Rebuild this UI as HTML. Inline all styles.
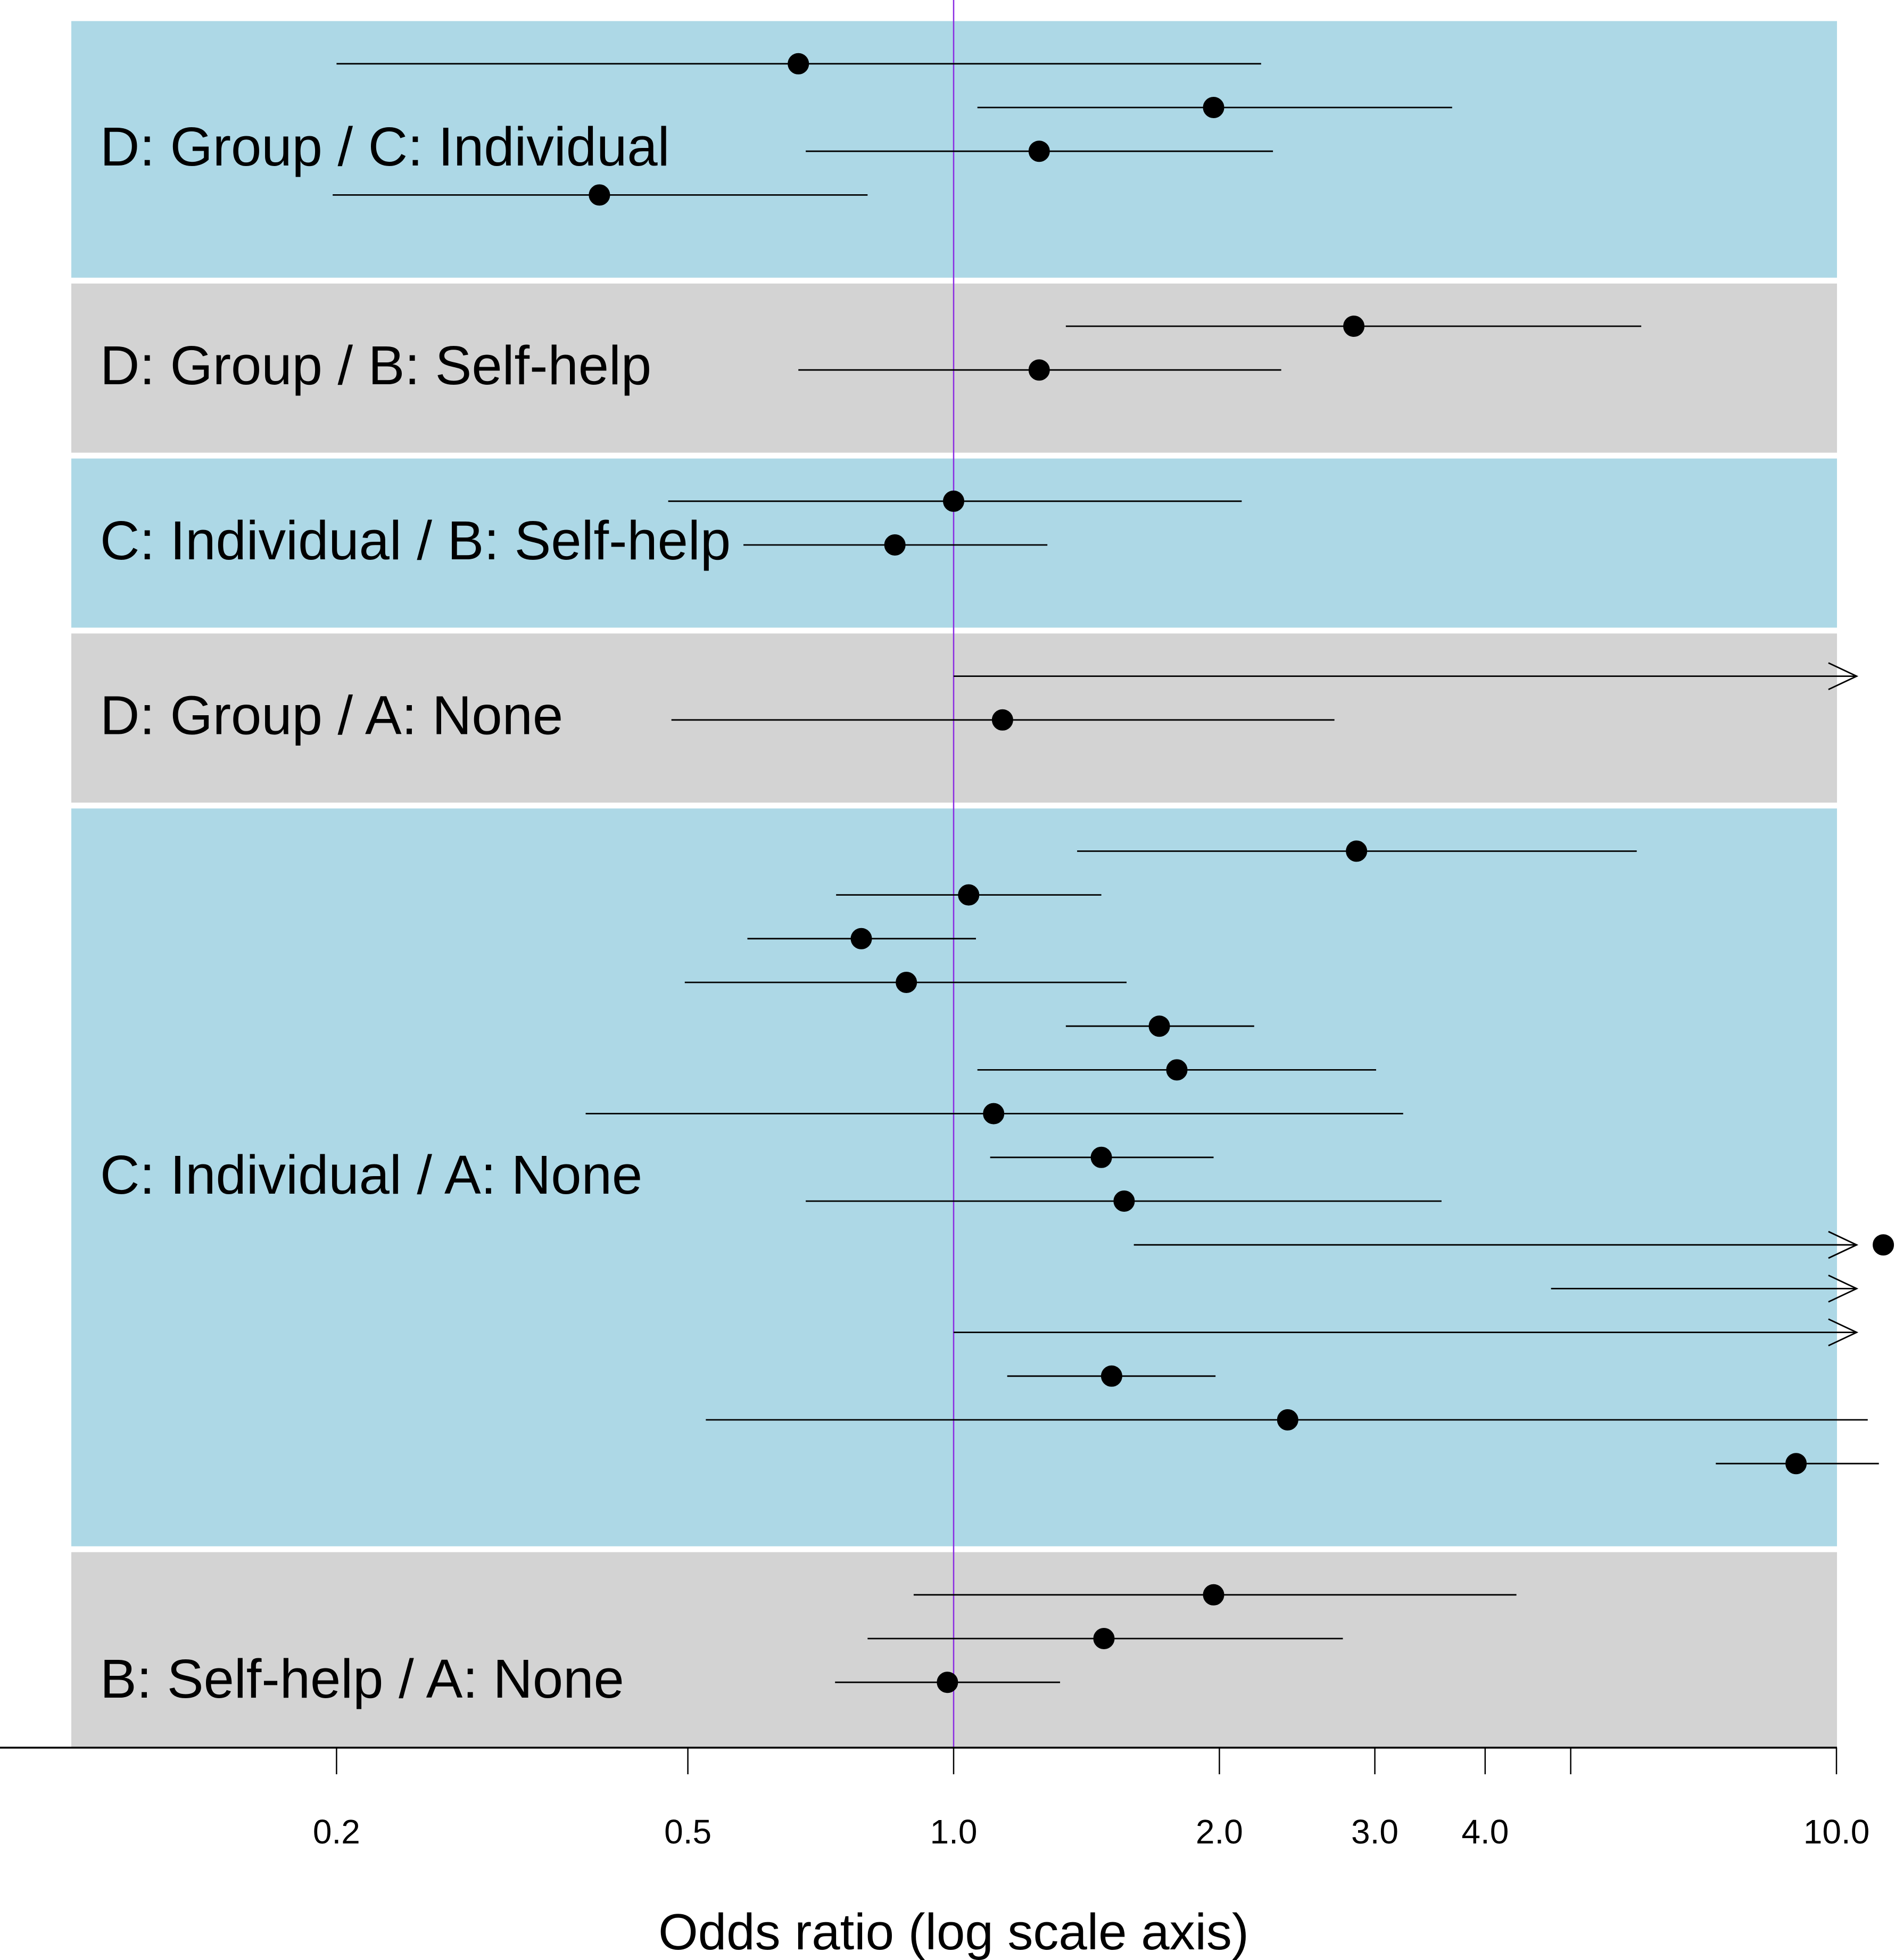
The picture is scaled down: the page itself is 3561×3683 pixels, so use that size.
<!DOCTYPE html>
<html><head><meta charset="utf-8"><style>
html,body{margin:0;padding:0;background:#fff;}
svg{display:block;}
text{font-family:"Liberation Sans",Arial,sans-serif;}
</style></head><body>
<svg id="chart" width="3561" height="3683" viewBox="0 0 3561 3683" xmlns="http://www.w3.org/2000/svg"></svg>
<script>
// ---- data ----
const panelLabels = ["D: Group / C: Individual","D: Group / B: Self-help","C: Individual / B: Self-help","D: Group / A: None","C: Individual / A: None","B: Self-help / A: None"];
const panelRows = [[1,2,3,4],[7,8],[11,12],[15,16],[19,20,21,22,23,24,25,26,27,28,29,30,31,32,33],[36,37,38]];
const rowIndex = [1,2,3,4,7,8,11,12,15,16,19,20,21,22,23,24,25,26,27,28,29,30,31,32,33,36,37,38];
const lowerCI = [0.2,1.064,0.68,0.198,1.34,0.667,0.475,0.578,1.0,0.479,1.38,0.736,0.584,0.496,1.34,1.064,0.383,1.10,0.68,1.60,4.75,1.0,1.15,0.524,7.3,0.901,0.799,0.734];
const estimate = [0.667,1.97,1.25,0.397,2.84,1.25,1.0,0.858,20,1.136,2.86,1.04,0.786,0.884,1.71,1.79,1.11,1.47,1.56,11.3,20,20,1.51,2.39,9.0,1.97,1.48,0.984];
const upperCI = [2.23,3.67,2.30,0.799,6.01,2.35,2.12,1.277,100,2.70,5.94,1.47,1.06,1.57,2.19,3.01,3.23,1.97,3.57,100,100,100,1.98,10.85,11.17,4.34,2.76,1.32];
const tickValues = [0.2,0.5,1,2,3,4,5,10];
const tickLabels = ["0.2","0.5","1.0","2.0","3.0","4.0","","10.0"];

const svg = document.getElementById('chart');
const NS = "http://www.w3.org/2000/svg";
const X1 = 1792, DEC = 1659;
function xScale(v){ return X1 + DEC*Math.log10(v); }
const Y0 = 37.6, U = 82.2;
function yScale(k){ return Y0 + U*k; }
const AXIS_Y = 3284, LEFT = 134, RIGHT = 3452;
function mk(tag, attrs){ const e=document.createElementNS(NS,tag); for(const k in attrs) e.setAttribute(k,attrs[k]); svg.appendChild(e); return e; }

// panels
panelRows.forEach((rows,i)=>{
  const top = yScale(rows[0]-1)+2;
  let bot = yScale(rows[rows.length-1]+2)-9;
  if (bot > AXIS_Y) bot = AXIS_Y;
  const r = mk('rect',{x:LEFT,y:top,width:RIGHT-LEFT,height:bot-top,fill:i%2===0?'#add8e6':'#d3d3d3'});
  
  
});
// labels
panelRows.forEach((rows,i)=>{
  const mean = (rows[0]+rows[rows.length-1])/2;
  let base = yScale(mean)+68;
  if (i===panelRows.length-1) base += 43;
  const t = mk('text',{x:188,y:base,'font-size':103,fill:'#000'});
  t.textContent = panelLabels[i];
  
  
});
// reference line
const ref = mk('line',{x1:xScale(1),x2:xScale(1),y1:0,y2:AXIS_Y,stroke:'#8a2be2','stroke-width':2.5});


// intervals
const ARROW_LIMIT = 11.5, ARROW_TIP = 10.54;
rowIndex.forEach((k,i)=>{
  const y = yScale(k);
  const arrow = upperCI[i] > ARROW_LIMIT;
  const hiX = arrow ? xScale(ARROW_TIP) : xScale(upperCI[i]);
  const l = mk('line',{x1:xScale(lowerCI[i]),x2:hiX,y1:y,y2:y,stroke:'#000','stroke-width':2.8});
  
  
  if (arrow){
    const p = mk('polyline',{points:`${hiX-53},${y-25} ${hiX},${y} ${hiX-53},${y+25}`,fill:'none',stroke:'#000','stroke-width':2.8});
    
    
  }
  const c = mk('circle',{cx:xScale(estimate[i]),cy:y,r:19,fill:'#000',stroke:'#000','stroke-width':2});
  
  
});
// axis
const ax = mk('line',{x1:0,x2:RIGHT,y1:AXIS_Y,y2:AXIS_Y,stroke:'#000','stroke-width':3.5});


tickValues.forEach((v,i)=>{
  const x = xScale(v);
  const t = mk('line',{x1:x,x2:x,y1:AXIS_Y,y2:AXIS_Y+50,stroke:'#000','stroke-width':2.5});
  
  
  if (tickLabels[i]){
    const tx = mk('text',{x:x,y:3464,'font-size':64,'text-anchor':'middle',fill:'#000'});
    tx.textContent = tickLabels[i];
    
    
  }
});
const title = mk('text',{x:1792,y:3663,'font-size':96,'text-anchor':'middle',fill:'#000'});
title.textContent = "Odds ratio (log scale axis)";


</script>
</body></html>
